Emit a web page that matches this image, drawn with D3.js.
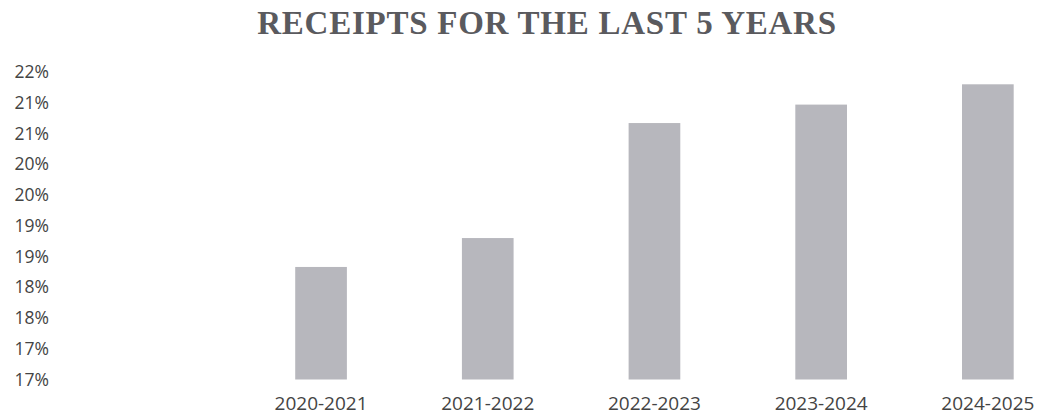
<!DOCTYPE html>
<html><head><meta charset="utf-8">
<script src="https://cdn.jsdelivr.net/npm/d3@7"></script>
<style>body{margin:0;background:#fff;}svg{display:block;}</style>
</head><body>
<script>
const categories = ["2020-2021","2021-2022","2022-2023","2023-2024","2024-2025"];
const values = [18.33, 18.80, 20.67, 20.97, 21.30];
const tickValues = [16.5,17,17.5,18,18.5,19,19.5,20,20.5,21,21.5];
const title = "RECEIPTS FOR THE LAST 5 YEARS";

const W = 1041, H = 418;
const svg = d3.select("body").append("svg").attr("width", W).attr("height", H);

const x = d3.scaleBand().domain(categories).range([237.7, 1071.2]).paddingInner(0.69).paddingOuter(0.345);
const y = d3.scaleLinear().domain([16.5, 21.5]).range([379.5, 72]);

svg.append("text").attr("x", 547).attr("y", 33.5).attr("text-anchor", "middle")
  .attr("font-family", "Liberation Serif, Times New Roman, serif").attr("font-weight", "bold")
  .attr("font-size", 33).attr("letter-spacing", 0.75).attr("fill", "#5a5a5e").text(title);

const yAxis = d3.axisLeft(y).tickValues(tickValues).tickSize(0).tickPadding(0)
  .tickFormat(d => Math.round(d) + "%");
const gy = svg.append("g").attr("transform", "translate(49,0)").call(yAxis);
gy.select(".domain").remove();
gy.selectAll("text").attr("font-family", "Open Sans, sans-serif").attr("font-size", 17.5).attr("fill", "#444");

const xAxis = d3.axisBottom(x).tickSize(0).tickPadding(0);
const gx = svg.append("g").attr("transform", "translate(0,396)").call(xAxis);
gx.select(".domain").remove();
gx.selectAll("text").attr("font-family", "Open Sans, sans-serif").attr("font-size", 19).attr("fill", "#444");

svg.append("g").selectAll("rect").data(values).join("rect")
  .attr("x", (d,i) => x(categories[i]))
  .attr("width", x.bandwidth())
  .attr("y", d => y(d))
  .attr("height", d => y(16.5) - y(d))
  .attr("fill", "#b7b7bd");
</script>
</body></html>
